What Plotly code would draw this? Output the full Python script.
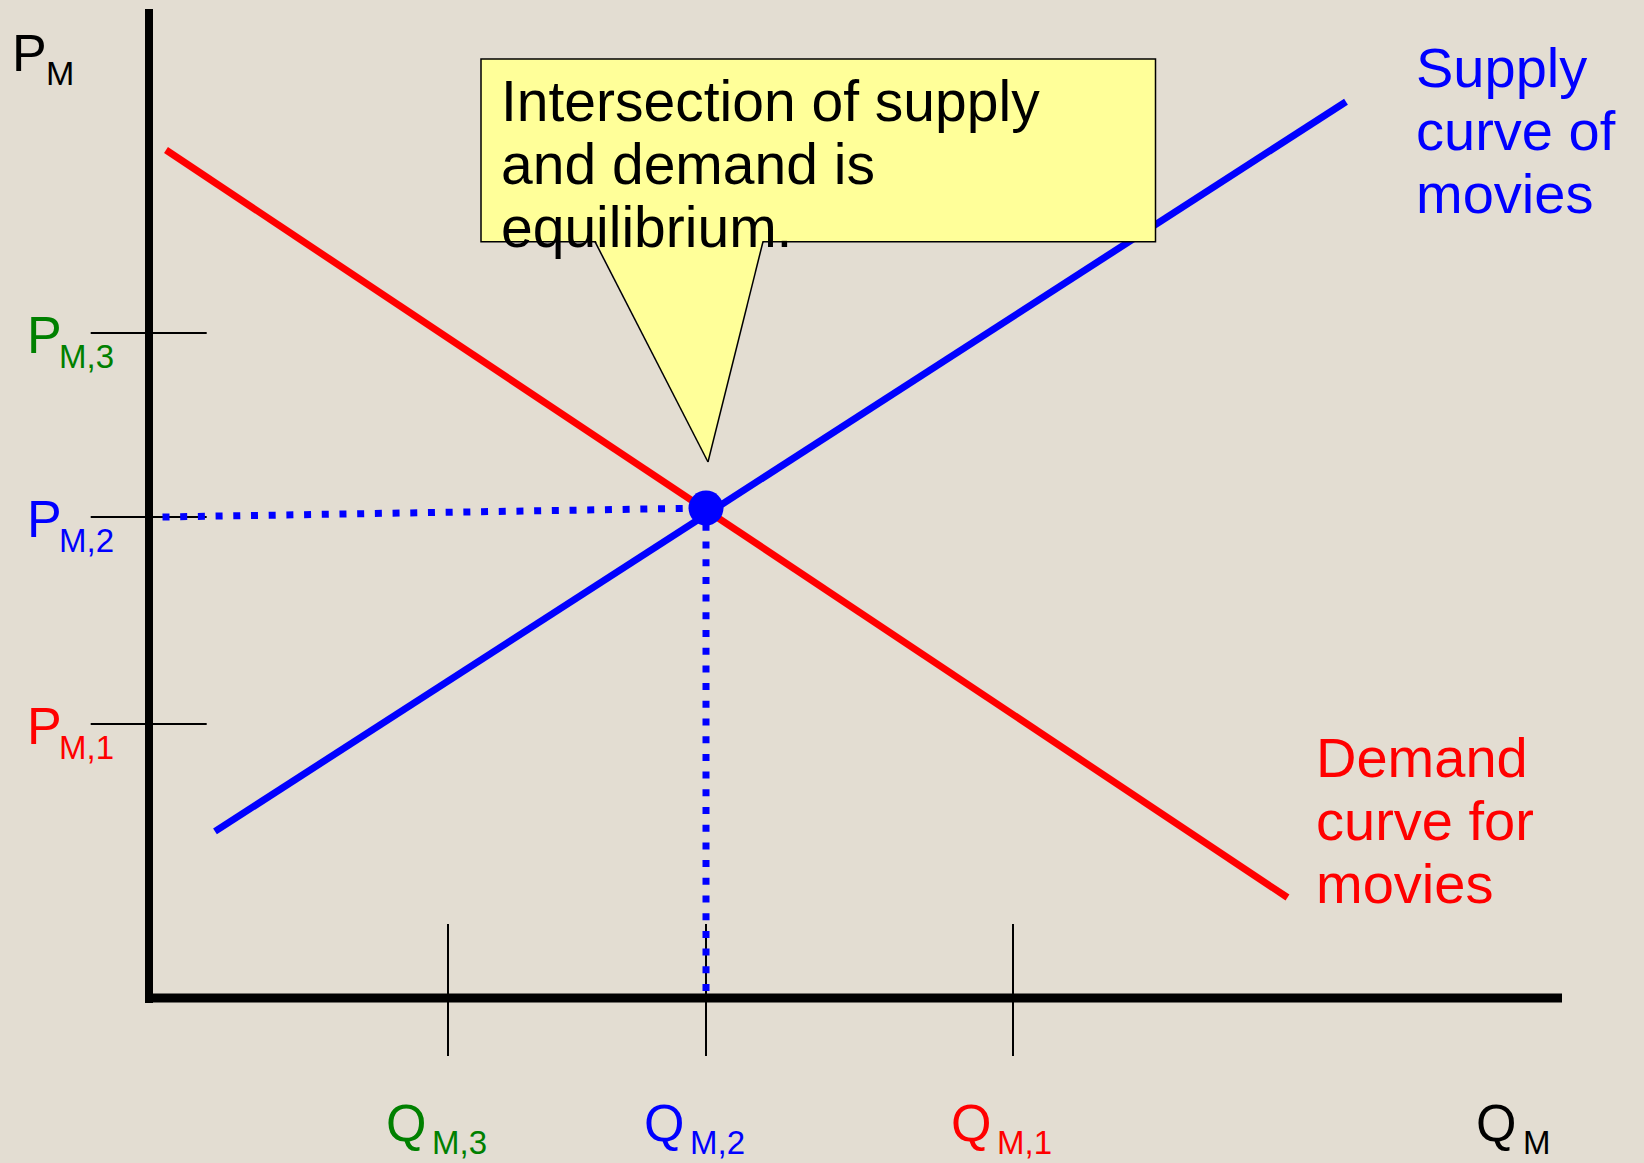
import plotly.graph_objects as go

# ---------------- data (chart units: quantity of movies, price of movies) ----------------
demand_q = [0.17, 11.385]
demand_p = [8.48, 1.005]
supply_q = [0.66, 11.97]
supply_p = [1.666, 8.963]

eq_q = [5.57]
eq_p = [4.90]

p_tick_vals = [2.74, 4.81, 6.65]
p_tick_subs = ["M,1", "M,2", "M,3"]
q_tick_vals = [2.99, 5.57, 8.64]
q_tick_subs = ["M,3", "M,2", "M,1"]

axis_q_max = 14.13
axis_p_max = 9.89

supply_text = ["Supply", "curve of", "movies"]
demand_text = ["Demand", "curve for", "movies"]
callout_text = ["Intersection of supply", "and demand is", "equilibrium."]

# ---------------- styles ----------------
FONT = "Liberation Sans, Arial, sans-serif"
BG = "#E3DDD2"
RED = "#FF0000"
BLUE = "#0000FF"
GREEN = "#008000"
YELLOW = "#FFFF99"
p_colors = [RED, BLUE, GREEN]
q_colors = [GREEN, BLUE, RED]

fig = go.Figure()


def seg(x, y, color, width, dash=None):
    fig.add_trace(go.Scatter(x=x, y=y, mode="lines",
                             line=dict(color=color, width=width, dash=dash),
                             hoverinfo="skip", showlegend=False))


def label(x, y, text, size, color, xshift=0, yshift=0):
    fig.add_annotation(x=x, y=y, xref="x", yref="y", text=text, showarrow=False,
                       xanchor="left", yanchor="middle", xshift=xshift, yshift=yshift,
                       font=dict(family=FONT, size=size, color=color))


# tick marks crossing the axes
for pv in p_tick_vals:
    seg([-0.583, 0.577], [pv, pv], "black", 2)
for qv in q_tick_vals:
    seg([qv, qv], [-0.58, 0.74], "black", 2)

# axes
seg([0, 0], [-0.05, axis_p_max], "black", 8)
seg([-0.04, axis_q_max], [0, 0], "black", 9)

# demand and supply curves
seg(demand_q, demand_p, RED, 7)
seg(supply_q, supply_p, BLUE, 7)

# dotted guides to the equilibrium
DOT = "7px,10.7px"
seg([0.135, eq_q[0]], [p_tick_vals[1], eq_p[0]], BLUE, 7, DOT)
seg([eq_q[0], eq_q[0]], [0.07, eq_p[0]], BLUE, 7, DOT)

# equilibrium point
fig.add_trace(go.Scatter(x=eq_q, y=eq_p, mode="markers",
                         marker=dict(color=BLUE, size=35, line=dict(width=0)),
                         hoverinfo="skip", showlegend=False))

# ---------------- callout ----------------
bx0, bx1, by0, by1 = 3.32, 10.065, 7.563, 9.39
tail_l, tail_r, tip_x, tip_y = 4.46, 6.14, 5.59, 5.36
fig.add_shape(type="rect", xref="x", yref="y", x0=bx0, x1=bx1, y0=by0, y1=by1,
              fillcolor=YELLOW, line=dict(color="black", width=1.5), layer="above")
fig.add_shape(type="path", xref="x", yref="y",
              path=f"M {tail_l},{by0 + 0.025} L {tip_x},{tip_y} L {tail_r},{by0 + 0.025} Z",
              fillcolor=YELLOW, line=dict(width=0), layer="above")
for bxv in (tail_l, tail_r):
    fig.add_shape(type="line", xref="x", yref="y", x0=bxv, y0=by0, x1=tip_x, y1=tip_y,
                  line=dict(color="black", width=1.5), layer="above")

LINE_GAP = 63
for i, t in enumerate(callout_text):
    label(bx0, by1, t, 57, "black", xshift=18, yshift=-(42.25 + i * LINE_GAP))

# curve labels
for i, t in enumerate(supply_text):
    label(supply_q[1], supply_p[1], t, 56, BLUE, xshift=68, yshift=33.8 - i * LINE_GAP)
for i, t in enumerate(demand_text):
    label(demand_q[1], demand_p[1], t, 56, RED, xshift=26.5, yshift=139.6 - i * LINE_GAP)

# axis titles
label(-1.39, 9.45, "P", 52, "black")
label(-1.05, 9.254, "M", 34, "black")
label(13.245, -1.26, "Q", 52, "black", yshift=1)
label(13.72, -1.48, "M", 33, "black", yshift=4)

# tick labels
for pv, sub, c in zip(p_tick_vals, p_tick_subs, p_colors):
    label(-1.245, pv, "P", 52, c, yshift=-2.3)
    label(-0.925, pv, sub, 33, c, yshift=-23.6)
for qv, sub, c in zip(q_tick_vals, q_tick_subs, q_colors):
    label(qv, -1.26, "Q", 52, c, xshift=-64, yshift=1)
    label(qv, -1.48, sub, 33, c, xshift=-18, yshift=4)

fig.update_layout(
    width=1644, height=1163,
    margin=dict(l=0, r=0, t=0, b=0),
    paper_bgcolor=BG, plot_bgcolor=BG,
    xaxis=dict(range=[-1.49, 14.95], visible=False, fixedrange=True),
    yaxis=dict(range=[-1.65, 9.98], visible=False, fixedrange=True),
    showlegend=False,
)

fig.write_html("out.html",
               config={"displayModeBar": False},
               post_script="document.body.style.margin='0';document.body.style.overflow='hidden';")
